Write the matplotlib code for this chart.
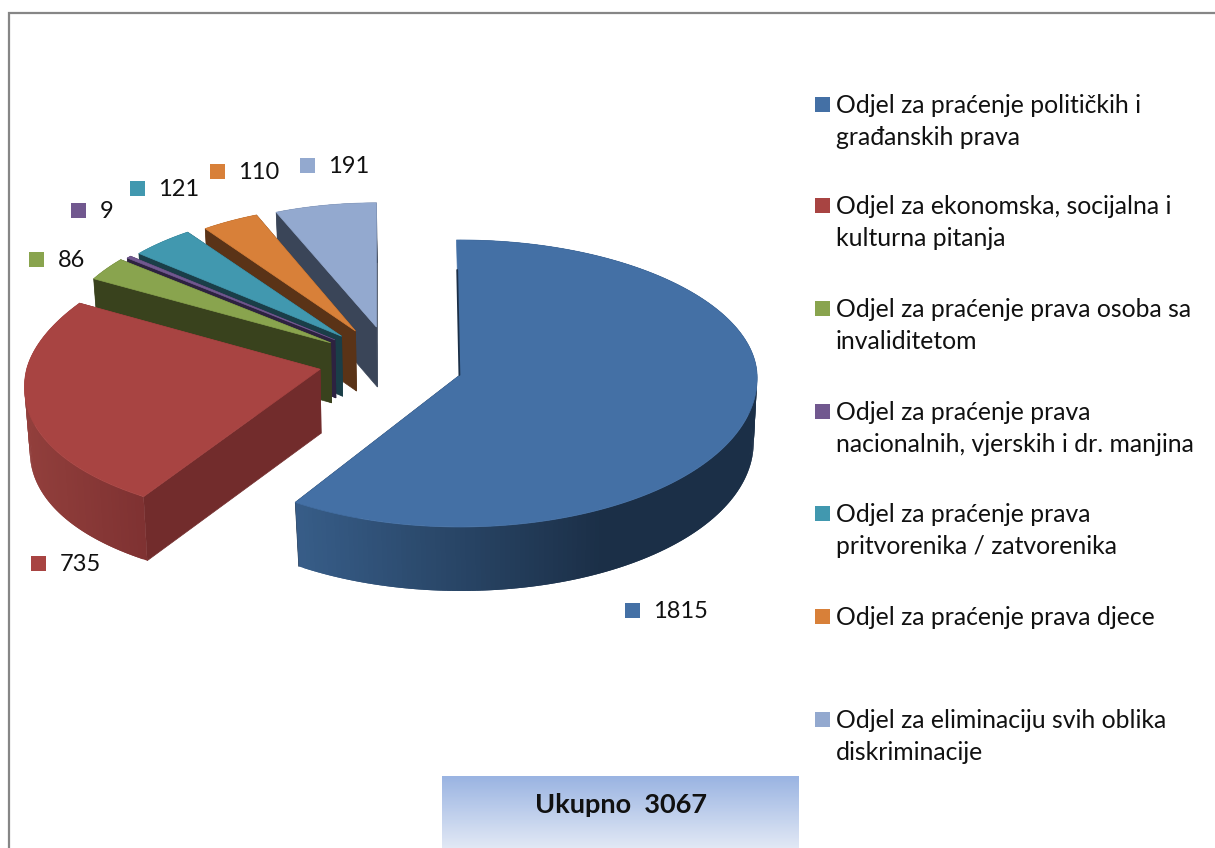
import numpy as np
import matplotlib
matplotlib.use('Agg')
import matplotlib.pyplot as plt
from matplotlib.colors import to_rgb
from matplotlib.patches import Polygon, Rectangle

plt.rcParams['font.family'] = ['Lato', 'DejaVu Sans']

values = [1815, 735, 86, 9, 121, 110, 191]
legend_lines = [
    ['Odjel za praćenje političkih i', 'građanskih prava'],
    ['Odjel za ekonomska, socijalna i', 'kulturna pitanja'],
    ['Odjel za praćenje prava osoba sa', 'invaliditetom'],
    ['Odjel za praćenje prava', 'nacionalnih, vjerskih i dr. manjina'],
    ['Odjel za praćenje prava', 'pritvorenika / zatvorenika'],
    ['Odjel za praćenje prava djece'],
    ['Odjel za eliminaciju svih oblika', 'diskriminacije'],
]
total_label = 'Ukupno  3067'

top_colors = ['#4470A5', '#A84442', '#89A44E', '#71588F', '#4198AF', '#D88039', '#93A9CF']
side_colors = ['#1B2F47', '#722C2C', '#39421D', '#2D2240', '#1A3E48', '#5A3317', '#3A4558']
arc_left = ['#375D88', '#923F3C', '#39421D', '#2D2240', '#1A3E48', '#5A3317', '#3A4558']
arc_right = ['#1B2F47', '#7F3232', '#39421D', '#2D2240', '#1A3E48', '#5A3317', '#3A4558']
arc_reach = [0.66, 1, 1, 1, 1, 1, 1]

# pixel layout of the fake 3d pie
scale_x = [0.997, 0.985, 0.912, 0.902, 0.894, 0.872, 0.882]
scale_y = [1.0, 1.0, 0.97, 0.955, 0.945, 0.93, 0.92]
tilt = [6, 36, 0, 0, 0, 0, 0]
nudge_y = [0, -4, 0, 0, 0, 0, 0]
depth = [64, 64, 60, 58, 60, 60, 60]
RX, RY_FAR, RY_NEAR = 298, 135, 152
BASE_X, BASE_Y, EXPL_X, EXPL_Y = 390.5, 364.2, 72.5, 37.9

label_pos = [(625, 603), (31, 556), (29, 252), (71, 203), (130, 181), (210, 164), (300, 158)]
legend_y = [105.5, 206.5, 309.5, 412.5, 514.5, 617.5, 720.5]

fig = plt.figure(figsize=(12.15, 8.48), dpi=100)
ax = fig.add_axes([0, 0, 1, 1])
ax.axis('off')

angles = np.concatenate([[0], np.cumsum(values)]) / np.sum(values) * 2 * np.pi


def apex(i):
    mid = (angles[i] + angles[i + 1]) / 2
    return BASE_X + EXPL_X * np.sin(mid), BASE_Y - EXPL_Y * np.cos(mid) + nudge_y[i]


def rim(i, th):
    ax0, ay0 = apex(i)
    s, c = np.sin(th), np.cos(th)
    rx = RX * scale_x[i] - tilt[i] * c
    ry = (RY_FAR if c > 0 else RY_NEAR) * scale_y[i]
    return ax0 + rx * s, ay0 - ry * c


def drop(i, x, y):
    # bottom edge sits a bit closer to the slice tip
    ax0 = apex(i)[0]
    return ax0 + 1 + (x - ax0) * 0.985, y + depth[i]


def poly(pts, color, z, lw=0.5):
    ax.add_patch(Polygon(pts, closed=True, fc=color, ec=color if lw else 'none', lw=lw, zorder=z))


# far slices first, blue and red are in front
order = [6, 5, 4, 3, 2, 1, 0]
for n, i in enumerate(order):
    z = 2 + n
    a0 = apex(i)
    ths = np.linspace(angles[i], angles[i + 1], max(int(values[i] / 8), 6))
    pts = [rim(i, t) for t in ths]

    # flat walls along the two straight edges
    for p in (pts[0], pts[-1]):
        poly([a0, p, drop(i, *p), drop(i, *a0)], side_colors[i], z)

    # outer wall, shaded left to right, each quad runs under the next to hide seams
    c_left, c_right = np.array(to_rgb(arc_left[i])), np.array(to_rgb(arc_right[i]))
    xs = np.array([p[0] for p in pts])
    seq = np.argsort(-xs[:-1]) if i == 0 else np.arange(len(pts) - 1)
    for j in seq:
        f = min((xs[j] - xs.min()) / max(xs.max() - xs.min(), 1) / arc_reach[i], 1)
        col = c_left + (c_right - c_left) * f
        p, q = pts[j], pts[min(j + 2, len(pts) - 1)]
        if i == 0:
            p, q = pts[max(j - 1, 0)], pts[j + 1]
        poly([p, q, drop(i, *q), drop(i, *p)], tuple(col), z, lw=0)

    if i == 0:
        # first edge of the big slice leans out a little and shows a dark sliver
        lean = (pts[0][0] - 3.5, pts[0][1])
        poly([a0, lean] + pts[1:], top_colors[i], z)
        ax.plot([a0[0] - 0.6, a0[0] - 2.8], [a0[1], a0[1] - 105], color=side_colors[i], lw=1.3,
                solid_capstyle='round', zorder=z + 1)
    else:
        poly([a0] + pts, top_colors[i], z)

# data labels
for i, (x, y) in enumerate(label_pos):
    ax.add_patch(Rectangle((x, y), 15, 15, fc=top_colors[i], ec='none', zorder=20))
    ax.text(x + 28.5, y + 8.5, str(values[i]), fontsize=17, va='center', ha='left',
            color='#111111', zorder=20)

# legend
for i, lines in enumerate(legend_lines):
    ax.add_patch(Rectangle((815, legend_y[i] - 8.5), 15, 15, fc=top_colors[i], ec='none', zorder=20))
    for k, line in enumerate(lines):
        ax.text(836, legend_y[i] + 32 * k, line, fontsize=17.8, va='center', ha='left',
                color='#111111', zorder=20)

# total box
grad = np.linspace(0, 1, 72)[:, None, None]
box = np.array(to_rgb('#9AB4E2'))[None, None, :] * (1 - grad) + np.array(to_rgb('#E1E8F5'))[None, None, :] * grad
ax.imshow(box, extent=(442, 799, 848, 776), aspect='auto', zorder=15)
ax.text(621, 805, total_label, fontsize=19.5, fontweight='bold', ha='center', va='center',
        color='#111111', zorder=20)

# chart frame, only top and left are in the crop
ax.plot([9, 9, 1215], [848, 12.5, 12.5], color='#868686', lw=1.6, zorder=1, solid_joinstyle='miter')

ax.set_xlim(0, 1215)
ax.set_ylim(848, 0)
fig.savefig('out.png', dpi=100)
